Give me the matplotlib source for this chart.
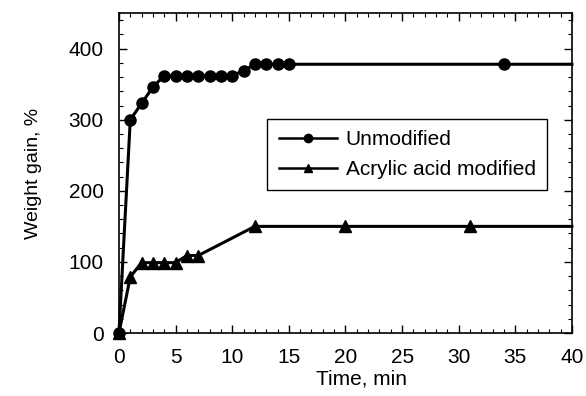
import matplotlib
matplotlib.use("Agg")
import matplotlib.pyplot as plt
from matplotlib.lines import Line2D
from matplotlib.ticker import MultipleLocator

plt.rcParams["font.family"] = ["Liberation Sans", "DejaVu Sans"]

# data
time_unmod = [0, 1, 2, 3, 4, 5, 6, 7, 8, 9, 10, 11, 12, 13, 14, 15, 34, 40]
gain_unmod = [0, 300, 323, 346, 362, 362, 362, 362, 362, 362, 362, 369, 378, 378, 378, 378, 378, 378]
time_acry = [0, 1, 2, 3, 4, 5, 6, 7, 12, 20, 31, 40]
gain_acry = [0, 79, 99, 99, 99, 99, 109, 109, 150, 150, 150, 150]

FS = 15

fig = plt.figure(figsize=(5.86, 3.96), dpi=100)
ax = fig.add_axes([0.203, 0.159, 0.773, 0.808])

ax.plot(time_unmod, gain_unmod, color="black", linewidth=2.2, marker="o",
        markersize=8, markevery=list(range(len(time_unmod) - 1)), clip_on=False)
ax.plot(time_acry, gain_acry, color="black", linewidth=2.2, marker="^",
        markersize=8, markevery=list(range(len(time_acry) - 1)), clip_on=False)

ax.set_xlim(0, 40)
ax.set_ylim(0, 450)
ax.set_xticks(range(0, 41, 5))
ax.set_yticks(range(0, 401, 100))
ax.xaxis.set_minor_locator(MultipleLocator(1))
ax.yaxis.set_minor_locator(MultipleLocator(20))
ax.tick_params(which="both", direction="in", top=True, right=True, labelsize=FS)
ax.tick_params(which="major", length=6, width=1)
ax.tick_params(axis="x", which="major", pad=11)
ax.tick_params(axis="y", which="major", pad=11)
ax.tick_params(which="minor", length=3, width=0.8)
for sp in ax.spines.values():
    sp.set_linewidth(1.2)

ax.set_xlabel("Time, min", fontsize=FS)
ax.set_ylabel("Weight gain, %", fontsize=14)
ax.xaxis.set_label_coords(0.535, -0.115)
ax.yaxis.set_label_coords(-0.17, 0.5)

handles = [
    Line2D([], [], color="black", linewidth=1.8, marker="o", markersize=6),
    Line2D([], [], color="black", linewidth=1.8, marker="^", markersize=6),
]
leg = ax.legend(handles, ["Unmodified", "Acrylic acid modified"],
                loc="upper right", bbox_to_anchor=(0.945, 0.669),
                borderaxespad=0, fontsize=FS, handlelength=2.8,
                fancybox=False, framealpha=1, edgecolor="black",
                labelspacing=0.5, handletextpad=0.4, borderpad=0.55)
leg.get_frame().set_linewidth(1.0)

fig.savefig("out.png", dpi=100)
